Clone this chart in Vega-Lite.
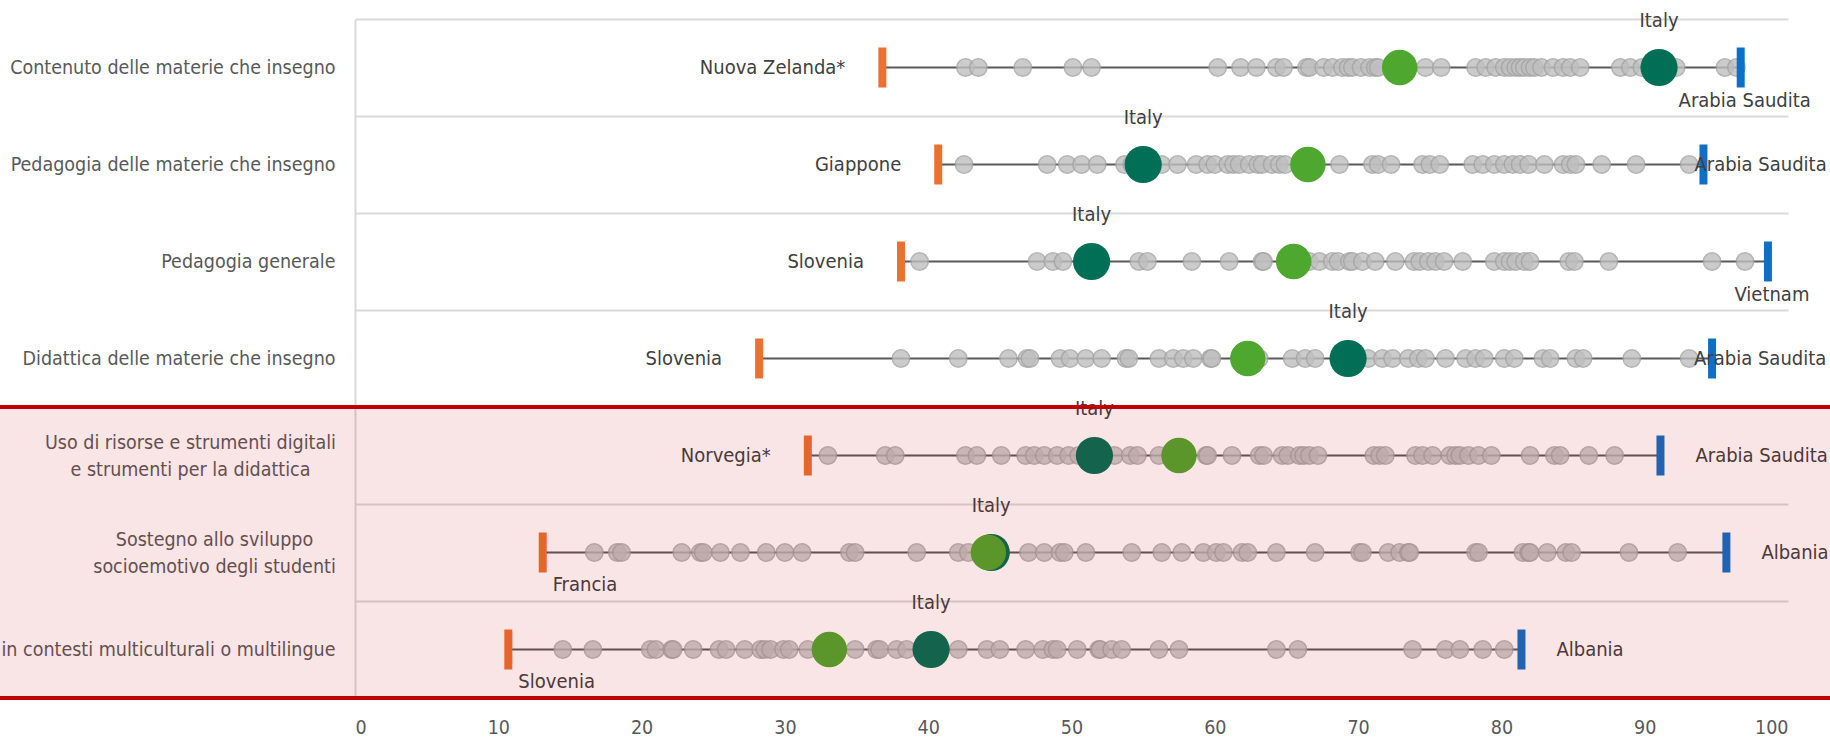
{
  "$schema": "https://vega.github.io/schema/vega-lite/v6.json",
  "width": 1433,
  "height": 679,
  "autosize": {"type": "none"},
  "padding": {"left": 355, "top": 19, "right": 42, "bottom": 42},
  "background": "white",
  "config": {
    "view": {"stroke": null},
    "font": "DejaVu Sans Condensed",
    "axisX": {"domain": false, "ticks": false, "grid": false, "labelFontSize": 19.5, "labelColor": "#595959", "labelPadding": 20, "tickCount": 10, "labelFont": "DejaVu Sans Condensed"}
  },
  "datasets": {
    "rows": [
      {"cat": "Contenuto delle materie che insegno", "min": 36.8, "max": 96.7, "minLabel": "Nuova Zelanda*", "maxLabel": "Arabia Saudita", "italy": 91.0, "avg": 72.9},
      {"cat": "Pedagogia delle materie che insegno", "min": 40.7, "max": 94.1, "minLabel": "Giappone", "maxLabel": "Arabia Saudita", "italy": 55.0, "avg": 66.5},
      {"cat": "Pedagogia generale", "min": 38.1, "max": 98.6, "minLabel": "Slovenia", "maxLabel": "Vietnam", "italy": 51.4, "avg": 65.5},
      {"cat": "Didattica delle materie che insegno", "min": 28.2, "max": 94.7, "minLabel": "Slovenia", "maxLabel": "Arabia Saudita", "italy": 69.3, "avg": 62.3},
      {"cat": "Uso di risorse e strumenti digitali|e strumenti per la didattica", "min": 31.6, "max": 91.1, "minLabel": "Norvegia*", "maxLabel": "Arabia Saudita", "italy": 51.6, "avg": 57.5},
      {"cat": "Sostegno allo sviluppo|socioemotivo degli studenti", "min": 13.1, "max": 95.7, "minLabel": "Francia", "maxLabel": "Albania", "italy": 44.4, "avg": 44.2},
      {"cat": "Didattica in contesti multiculturali o multilingue", "min": 10.7, "max": 81.4, "minLabel": "Slovenia", "maxLabel": "Albania", "italy": 40.2, "avg": 33.1}
    ],
    "countries": [
      {"cat": "Contenuto delle materie che insegno", "v": [42.6, 43.5, 46.6, 50.1, 51.4, 60.2, 61.8, 62.9, 64.3, 64.8, 66.4, 66.6, 67.6, 68.2, 68.9, 69.3, 69.6, 70.2, 70.8, 71.2, 71.4, 73.5, 74.7, 75.8, 78.2, 78.9, 79.6, 80.2, 80.6, 81.0, 81.3, 81.6, 82.0, 82.3, 82.8, 83.6, 84.3, 84.8, 85.5, 88.3, 89.0, 89.8, 92.2, 95.6, 96.4]},
      {"cat": "Pedagogia delle materie che insegno", "v": [42.5, 48.3, 49.7, 50.7, 51.8, 53.7, 54.2, 56.3, 57.4, 58.7, 59.5, 60.0, 60.9, 61.3, 61.7, 62.4, 63.0, 63.3, 64.0, 64.5, 64.9, 68.7, 71.0, 71.4, 72.3, 74.5, 75.0, 75.7, 78.0, 78.7, 79.5, 80.2, 80.8, 81.3, 81.9, 83.0, 84.3, 84.8, 85.2, 87.0, 89.4, 93.1]},
      {"cat": "Pedagogia generale", "v": [39.4, 47.6, 48.7, 49.4, 54.7, 55.3, 58.4, 61.0, 63.3, 63.4, 66.6, 67.3, 68.2, 68.6, 69.4, 69.6, 70.3, 71.2, 72.6, 73.9, 74.3, 74.9, 75.4, 76.0, 77.3, 79.5, 80.2, 80.6, 81.0, 81.6, 82.0, 84.7, 85.1, 87.5, 94.7, 97.0]},
      {"cat": "Didattica delle materie che insegno", "v": [38.1, 42.1, 45.6, 46.9, 47.1, 49.2, 49.9, 51.0, 52.1, 53.8, 54.0, 56.1, 57.1, 57.8, 58.5, 59.7, 59.8, 63.1, 65.4, 66.3, 67.0, 70.7, 71.7, 72.4, 73.5, 74.2, 74.7, 76.1, 77.5, 78.2, 78.8, 80.2, 80.9, 82.9, 83.4, 85.2, 85.7, 89.1, 93.1]},
      {"cat": "Uso di risorse e strumenti digitali|e strumenti per la didattica", "v": [33.0, 37.0, 37.7, 42.6, 43.4, 45.1, 46.8, 47.4, 48.1, 49.0, 49.8, 50.5, 53.0, 54.1, 54.6, 56.1, 59.4, 59.5, 61.2, 63.1, 63.4, 64.7, 65.1, 65.9, 66.2, 66.6, 67.2, 71.1, 71.5, 71.9, 74.0, 74.5, 75.2, 76.4, 76.8, 77.1, 77.7, 78.4, 79.3, 82.0, 83.7, 84.1, 86.1, 87.9]},
      {"cat": "Sostegno allo sviluppo|socioemotivo degli studenti", "v": [16.7, 18.3, 18.6, 22.8, 24.1, 24.3, 25.5, 26.9, 28.7, 30.0, 31.2, 34.5, 34.9, 39.2, 42.1, 42.8, 47.0, 48.1, 49.2, 49.5, 51.0, 54.2, 56.3, 57.7, 59.2, 60.1, 60.6, 61.9, 62.3, 64.3, 67.0, 70.1, 70.3, 72.1, 72.9, 73.5, 73.6, 78.2, 78.4, 81.5, 81.9, 82.0, 83.2, 84.5, 84.9, 88.9, 92.3]},
      {"cat": "Didattica in contesti multiculturali o multilingue", "v": [14.5, 16.6, 20.6, 21.0, 22.1, 22.2, 23.6, 25.4, 25.9, 27.2, 28.3, 28.6, 29.0, 29.9, 30.3, 31.6, 34.9, 36.4, 36.6, 37.8, 38.5, 42.1, 44.1, 45.0, 46.8, 48.0, 48.7, 49.0, 50.4, 51.9, 52.0, 52.8, 53.5, 56.1, 57.5, 64.3, 65.8, 73.8, 76.1, 77.1, 78.7, 80.2]}
    ]
  },
  "encoding": {
    "y": {
      "field": "cat",
      "type": "nominal",
      "title": null,
      "sort": ["Contenuto delle materie che insegno", "Pedagogia delle materie che insegno", "Pedagogia generale", "Didattica delle materie che insegno", "Uso di risorse e strumenti digitali|e strumenti per la didattica", "Sostegno allo sviluppo|socioemotivo degli studenti", "Didattica in contesti multiculturali o multilingue"],
      "scale": {"paddingInner": 0, "paddingOuter": 0},
      "axis": {
        "title": null,
        "domain": true,
        "domainColor": "#D9D9D9",
        "domainWidth": 2,
        "ticks": false,
        "grid": true,
        "gridColor": "#D9D9D9",
        "gridWidth": 2,
        "tickBand": "extent",
        "labelFont": "DejaVu Sans Condensed",
        "labelFontSize": 19.5,
        "labelColor": "#595959",
        "labelLimit": 2000,
        "labelLineHeight": 27,
        "labelExpr": "datum.value ? split(datum.value, '|') : ''",
        "labelAlign": {"condition": {"test": "indexof(datum.value + '', '|') >= 0", "value": "center"}, "value": "right"},
        "labelOffset": {"condition": {"test": "indexof(datum.value + '', '|') >= 0", "value": -13.5}, "value": 0},
        "labelPadding": {"condition": [{"test": "indexof(datum.value + '', 'Uso di') >= 0", "value": 165}, {"test": "indexof(datum.value + '', 'Sostegno') >= 0", "value": 141}], "value": 20}
      }
    }
  },
  "layer": [
    {
      "data": {"name": "rows"},
      "mark": {"type": "rule", "color": "#595959", "strokeWidth": 2},
      "encoding": {
        "x": {"field": "min", "type": "quantitative", "title": null, "scale": {"domain": [0, 100], "nice": false}},
        "x2": {"field": "max"}
      }
    },
    {
      "data": {"name": "countries"},
      "transform": [{"flatten": ["v"]}],
      "mark": {"type": "point", "filled": true, "size": 300, "color": "#BFBFBF", "opacity": 0.8, "stroke": "#A3A3A3", "strokeWidth": 1.5, "strokeOpacity": 1},
      "encoding": {
        "x": {"field": "v", "type": "quantitative", "title": null, "scale": {"domain": [0, 100], "nice": false}}
      }
    },
    {
      "data": {"name": "rows"},
      "mark": {"type": "tick", "color": "#E97132", "thickness": 8, "size": 40, "opacity": 1},
      "encoding": {
        "x": {"field": "min", "type": "quantitative", "title": null, "scale": {"domain": [0, 100], "nice": false}}
      }
    },
    {
      "data": {"name": "rows"},
      "mark": {"type": "tick", "color": "#0F6FC6", "thickness": 8, "size": 40, "opacity": 1},
      "encoding": {
        "x": {"field": "max", "type": "quantitative", "title": null, "scale": {"domain": [0, 100], "nice": false}}
      }
    },
    {
      "data": {"name": "rows"},
      "mark": {"type": "point", "filled": true, "size": 1385, "color": "#006F56", "opacity": 1},
      "encoding": {
        "x": {"field": "italy", "type": "quantitative", "title": null, "scale": {"domain": [0, 100], "nice": false}}
      }
    },
    {
      "data": {"name": "rows"},
      "mark": {"type": "point", "filled": true, "size": 1257, "color": "#4EA72E", "opacity": 1},
      "encoding": {
        "x": {"field": "avg", "type": "quantitative", "title": null, "scale": {"domain": [0, 100], "nice": false}}
      }
    },
    {
      "data": {"name": "rows"},
      "mark": {"type": "text", "text": "Italy", "font": "DejaVu Sans Condensed", "fontSize": 20, "color": "#404040", "dy": -47, "baseline": "middle", "align": "center"},
      "encoding": {
        "x": {"field": "italy", "type": "quantitative", "title": null, "scale": {"domain": [0, 100], "nice": false}}
      }
    },
    {
      "data": {"name": "rows"},
      "transform": [{"filter": {"field": "cat", "oneOf": ["Contenuto delle materie che insegno", "Pedagogia delle materie che insegno", "Pedagogia generale", "Didattica delle materie che insegno", "Uso di risorse e strumenti digitali|e strumenti per la didattica"]}}],
      "mark": {"type": "text", "font": "DejaVu Sans Condensed", "fontSize": 20, "color": "#404040", "dx": -37, "baseline": "middle", "align": "right"},
      "encoding": {
        "x": {"field": "min", "type": "quantitative", "title": null, "scale": {"domain": [0, 100], "nice": false}},
        "text": {"field": "minLabel"}
      }
    },
    {
      "data": {"name": "rows"},
      "transform": [{"filter": {"field": "cat", "oneOf": ["Sostegno allo sviluppo|socioemotivo degli studenti", "Didattica in contesti multiculturali o multilingue"]}}],
      "mark": {"type": "text", "font": "DejaVu Sans Condensed", "fontSize": 20, "color": "#404040", "dx": 10, "dy": 32, "baseline": "middle", "align": "left"},
      "encoding": {
        "x": {"field": "min", "type": "quantitative", "title": null, "scale": {"domain": [0, 100], "nice": false}},
        "text": {"field": "minLabel"}
      }
    },
    {
      "data": {"name": "rows"},
      "transform": [{"filter": {"field": "cat", "oneOf": ["Contenuto delle materie che insegno", "Pedagogia generale"]}}],
      "mark": {"type": "text", "font": "DejaVu Sans Condensed", "fontSize": 20, "color": "#404040", "dx": 4, "dy": 33, "baseline": "middle", "align": "center"},
      "encoding": {
        "x": {"field": "max", "type": "quantitative", "title": null, "scale": {"domain": [0, 100], "nice": false}},
        "text": {"field": "maxLabel"}
      }
    },
    {
      "data": {"name": "rows"},
      "transform": [{"filter": {"field": "cat", "equal": "Pedagogia delle materie che insegno"}}],
      "mark": {"type": "text", "font": "DejaVu Sans Condensed", "fontSize": 20, "color": "#404040", "dx": -9, "baseline": "middle", "align": "left"},
      "encoding": {
        "x": {"field": "max", "type": "quantitative", "title": null, "scale": {"domain": [0, 100], "nice": false}},
        "text": {"field": "maxLabel"}
      }
    },
    {
      "data": {"name": "rows"},
      "transform": [{"filter": {"field": "cat", "equal": "Didattica delle materie che insegno"}}],
      "mark": {"type": "text", "font": "DejaVu Sans Condensed", "fontSize": 20, "color": "#404040", "dx": -18, "baseline": "middle", "align": "left"},
      "encoding": {
        "x": {"field": "max", "type": "quantitative", "title": null, "scale": {"domain": [0, 100], "nice": false}},
        "text": {"field": "maxLabel"}
      }
    },
    {
      "data": {"name": "rows"},
      "transform": [{"filter": {"field": "cat", "oneOf": ["Uso di risorse e strumenti digitali|e strumenti per la didattica", "Sostegno allo sviluppo|socioemotivo degli studenti", "Didattica in contesti multiculturali o multilingue"]}}],
      "mark": {"type": "text", "font": "DejaVu Sans Condensed", "fontSize": 20, "color": "#404040", "dx": 35, "baseline": "middle", "align": "left"},
      "encoding": {
        "x": {"field": "max", "type": "quantitative", "title": null, "scale": {"domain": [0, 100], "nice": false}},
        "text": {"field": "maxLabel"}
      }
    },
    {
      "data": {"name": "rows"},
      "transform": [{"filter": {"field": "cat", "oneOf": ["Uso di risorse e strumenti digitali|e strumenti per la didattica", "Sostegno allo sviluppo|socioemotivo degli studenti", "Didattica in contesti multiculturali o multilingue"]}}],
      "mark": {"type": "rect", "color": "#C00000", "opacity": 0.1},
      "encoding": {
        "x": {"datum": -25, "type": "quantitative", "title": null, "scale": {"domain": [0, 100], "nice": false}},
        "x2": {"datum": 103}
      }
    },
    {
      "data": {"values": [{}]},
      "mark": {"type": "rule", "color": "#C00000", "strokeWidth": 4},
      "encoding": {
        "x": {"datum": -25, "type": "quantitative", "title": null, "scale": {"domain": [0, 100], "nice": false}},
        "x2": {"datum": 103},
        "y": {"datum": "Uso di risorse e strumenti digitali|e strumenti per la didattica", "type": "nominal", "bandPosition": 0}
      }
    },
    {
      "data": {"values": [{}]},
      "mark": {"type": "rule", "color": "#C00000", "strokeWidth": 4},
      "encoding": {
        "x": {"datum": -25, "type": "quantitative", "title": null, "scale": {"domain": [0, 100], "nice": false}},
        "x2": {"datum": 103},
        "y": {"datum": "Didattica in contesti multiculturali o multilingue", "type": "nominal", "bandPosition": 1}
      }
    }
  ]
}
